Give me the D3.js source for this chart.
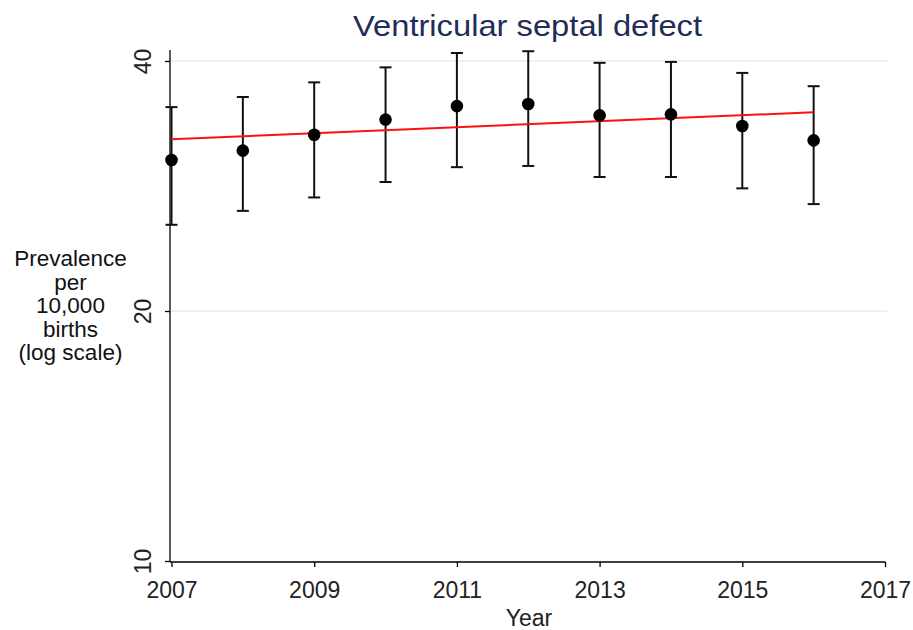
<!DOCTYPE html>
<html><head><meta charset="utf-8">
<script src="https://cdn.jsdelivr.net/npm/d3@7"></script>
<style>body{margin:0;background:#fff}svg{display:block}text{font-family:"Liberation Sans",Arial,sans-serif}</style>
</head><body><svg id="c" width="913" height="630"></svg>
<script>
const years = [2007,2008,2009,2010,2011,2012,2013,2014,2015,2016];
const prevalence = [30.4,31.2,32.6,34.0,35.3,35.5,34.4,34.5,33.4,32.1];
const lower = [25.4,26.4,27.4,28.6,29.8,29.9,29.0,29.0,28.1,26.9];
const upper = [35.2,36.2,37.7,39.3,40.9,41.1,39.8,39.9,38.7,37.3];
const trendYears = [2007,2016];
const trendValues = [32.2,34.7];
const xTicks = [2007,2009,2011,2013,2015,2017];
const yTicks = [10,20,40];
const title = "Ventricular septal defect";
const yLabel = ["Prevalence","per","10,000","births","(log scale)"];
const xLabel = "Year";

const svg = d3.select("#c");
const x = d3.scaleLinear().domain([2007,2017]).range([171.5,885]);
const y = d3.scaleLog().domain([10,40]).range([561,61]);

// gridlines
svg.append("g").selectAll("line").data(yTicks.filter(d=>d>10)).join("line")
  .attr("x1",171).attr("x2",887).attr("y1",d=>y(d)).attr("y2",d=>y(d))
  .attr("stroke","#e3eef0").attr("stroke-width",1.5);

// axes
const xAxis = d3.axisBottom(x).tickValues(xTicks).tickFormat(d3.format("d")).tickSize(5).tickSizeOuter(0);
const gx = svg.append("g").attr("transform","translate(0,562)").call(xAxis);
gx.select(".domain").attr("stroke","#000").attr("stroke-width",1.3).attr("d","M170,0H885.5");
gx.selectAll(".tick line").attr("stroke","#000").attr("stroke-width",1.3);
gx.selectAll(".tick text").attr("font-size",23).attr("fill","#222").attr("y",36).attr("dy",null);

const yAxis = d3.axisLeft(y).tickValues(yTicks).tickFormat(d3.format("d")).tickSize(5).tickSizeOuter(0);
const gy = svg.append("g").attr("transform","translate(170,0)").call(yAxis);
gy.select(".domain").attr("stroke","#000").attr("stroke-width",1.3).attr("d","M0,50V562");
gy.selectAll(".tick line").attr("stroke","#000").attr("stroke-width",1.3);
gy.selectAll(".tick text").attr("font-size",23).attr("fill","#222")
  .attr("x",null).attr("dy","0.36em").attr("text-anchor","middle")
  .attr("transform","translate(-27,0) rotate(-90)");

// error bars
const eb = svg.append("g").attr("stroke","#111").attr("stroke-width",2);
years.forEach((yr,i)=>{
  const cx = x(yr);
  eb.append("line").attr("x1",cx).attr("x2",cx).attr("y1",y(lower[i])).attr("y2",y(upper[i]));
  eb.append("line").attr("x1",cx-6).attr("x2",cx+6).attr("y1",y(lower[i])).attr("y2",y(lower[i]));
  eb.append("line").attr("x1",cx-6).attr("x2",cx+6).attr("y1",y(upper[i])).attr("y2",y(upper[i]));
});

// trend line
svg.append("path").datum(trendYears.map((d,i)=>[d,trendValues[i]]))
  .attr("d",d3.line().x(d=>x(d[0])).y(d=>y(d[1])))
  .attr("stroke","#ff1010").attr("stroke-width",2).attr("fill","none");

// points
svg.append("g").selectAll("circle").data(years).join("circle")
  .attr("cx",d=>x(d)).attr("cy",(d,i)=>y(prevalence[i])).attr("r",6.3).attr("fill","#000");

// title
svg.append("text").attr("x",527.5).attr("y",36).attr("text-anchor","middle")
  .attr("font-size",30).attr("textLength",349).attr("lengthAdjust","spacingAndGlyphs")
  .attr("fill","#1f2d57").text(title);

// x label
svg.append("text").attr("x",529).attr("y",626).attr("text-anchor","middle")
  .attr("font-size",23).attr("fill","#222").text(xLabel);

// y label
svg.append("g").selectAll("text").data(yLabel).join("text")
  .attr("x",70.5).attr("y",(d,i)=>266+i*23.6).attr("text-anchor","middle")
  .attr("font-size",22.5).attr("fill","#111").text(d=>d);
</script></body></html>
